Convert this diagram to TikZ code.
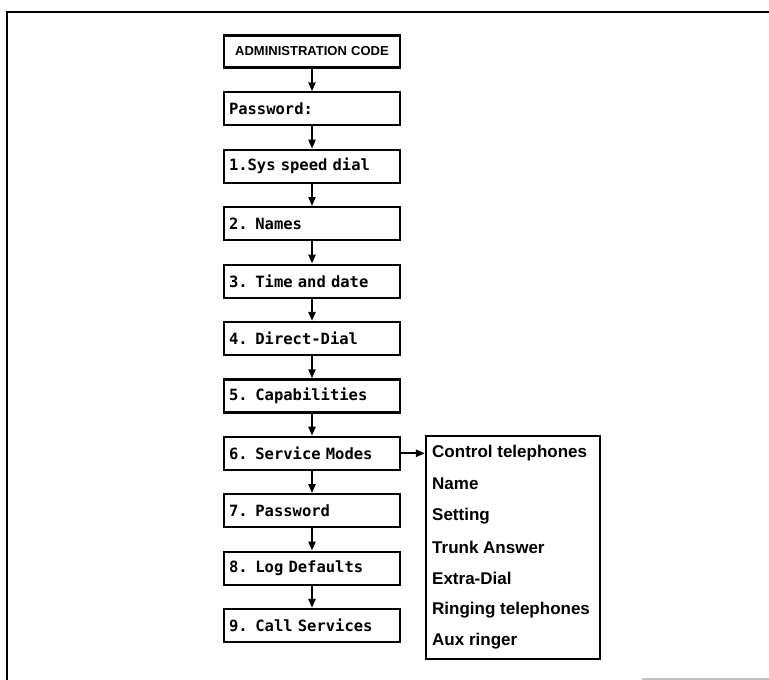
\documentclass[tikz,border=0pt]{standalone}
\usepackage{fontspec}
\setmainfont{Liberation Sans}
\newfontfamily\lcdfont{DejaVu Sans Mono}[BoldFont={DejaVu Sans Mono Bold}]
\usetikzlibrary{arrows.meta}
\begin{document}
\begin{tikzpicture}[x=1bp,y=-1bp,
  menubox/.style={draw,line width=2.2bp,minimum width=176bp,minimum height=33bp,
    inner xsep=5bp,inner ysep=0pt,text width=166bp,align=left,
    font=\lcdfont\bfseries\fontsize{15.5bp}{17bp}\selectfont},
  titlebox/.style={menubox,minimum height=32bp,align=center,
    font=\bfseries\fontsize{13bp}{15bp}\selectfont},
  flowarrow/.style={line width=2.2bp,-{Triangle[length=9bp,width=7bp]}},
  listitem/.style={anchor=west,inner sep=0pt,font=\bfseries\fontsize{17bp}{19bp}\selectfont},
  listframe/.style={draw,line width=2.2bp}]
\useasboundingbox (0,0) rectangle (769,680);
% outer frame (partial, as scanned)
\draw[line width=2.2bp] (7,680) -- (7,12) -- (769,12);
\draw[line width=1.2bp,gray!50] (642,679) -- (769,679);
% main column
\node[titlebox] (admin) at (312,51.5) {ADMINISTRATION CODE};
\node[menubox] (pw)   at (312,108.9) {Password:};
\node[menubox] (m1)   at (312,166.3) {1.Sys speed dial};
\node[menubox] (m2)   at (312,223.7) {2. Names};
\node[menubox] (m3)   at (312,281.1) {3. Time and date};
\node[menubox] (m4)   at (312,338.5) {4. Direct-Dial};
\node[menubox] (m5)   at (312,395.9) {5. Capabilities};
\node[menubox] (m6)   at (312,453.3) {6. Service Modes};
\node[menubox] (m7)   at (312,510.7) {7. Password};
\node[menubox] (m8)   at (312,568.1) {8. Log Defaults};
\node[menubox] (m9)   at (312,625.5) {9. Call Services};
\foreach \a/\b in {admin/pw,pw/m1,m1/m2,m2/m3,m3/m4,m4/m5,m5/m6,m6/m7,m7/m8,m8/m9}
  \draw[flowarrow] (\a.south) -- (\b.north);
% sub-list
\node[listframe,minimum width=174bp,minimum height=223bp,inner sep=0pt] (list) at (513,547.5) {};
\node[listitem] (l1) at (432,453) {Control telephones};
\node[listitem] (l2) at (432,484) {Name};
\node[listitem] (l3) at (432,516) {Setting};
\node[listitem] (l4) at (432,547) {Trunk Answer};
\node[listitem] (l5) at (432,578) {Extra-Dial};
\node[listitem] (l6) at (432,610) {Ringing telephones};
\node[listitem] (l7) at (432,641) {Aux ringer};
\draw[flowarrow] (m6.east) -- (m6.east -| list.west);
\end{tikzpicture}
\end{document}
